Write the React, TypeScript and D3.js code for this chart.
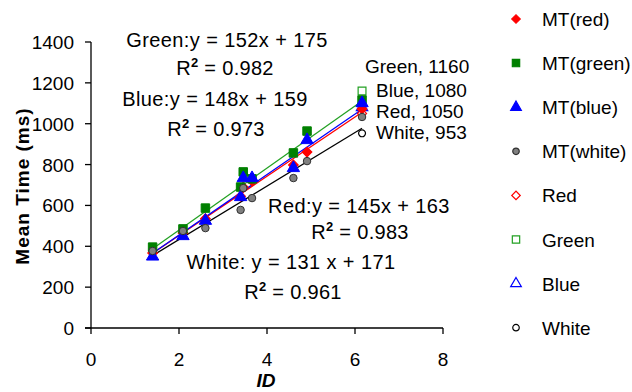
import React from "react";
import * as d3 from "d3";

const ids = [1.4, 2.09, 2.6, 3.4, 3.46, 3.66, 4.6, 4.91, 6.16];
const mtRed = [367, 465, 535, 645, 690, 720, 798, 861, 1072];
const mtGreen = [396, 485, 587, 690, 764, 730, 857, 964, 1116];
const mtBlue = [350, 450, 525, 641, 734, 734, 783, 920, 1101];
const mtWhite = [377, 475, 489, 578, 685, 636, 734, 817, 1033];

const fitSlope = [145, 152, 148, 131];
const fitIntercept = [163, 175, 159, 171];
const endLabels = ["Red, 1050", "Green, 1160", "Blue, 1080", "White, 953"];
const endValues = [1050, 1160, 1080, 953];
const r2 = ["0.983", "0.982", "0.973", "0.961"];

const xTicks = [0, 2, 4, 6, 8];
const yTicks = [0, 200, 400, 600, 800, 1000, 1200, 1400];
const legendLabels = ["MT(red)", "MT(green)", "MT(blue)", "MT(white)", "Red", "Green", "Blue", "White"];

const W = 632, H = 392;
const FONT = "'Liberation Sans', Arial, sans-serif";

const x = d3.scaleLinear().domain([0, 8]).range([91, 443]);
const y = d3.scaleLinear().domain([0, 1400]).range([328, 42]);

const series = [
  { vals: mtRed, sym: d3.symbolSquare, rot: 45, fill: "#ff0000", stroke: "#ff0000", line: "#ff0000", size: 48 },
  { vals: mtGreen, sym: d3.symbolSquare, rot: 0, fill: "#008000", stroke: "#008000", line: "#22a022", size: 72 },
  { vals: mtBlue, sym: d3.symbolTriangle, rot: 0, fill: "#0000ff", stroke: "#0000ff", line: "#0000ff", size: 66 },
  { vals: mtWhite, sym: d3.symbolCircle, rot: 0, fill: "#808080", stroke: "#303030", line: "#000000", size: 44 },
];

const sym = (t: any, s: number) => d3.symbol().type(t).size(s)() as string;

const R2 = ({ cx, by, v }: { cx: number; by: number; v: string }) => (
  <text x={cx} y={by} textAnchor="middle" fontSize={20} letterSpacing={0.3}>
    R<tspan dy={-8} fontSize={13} fontWeight="bold">2</tspan><tspan dy={8}> = {v}</tspan>
  </text>
);

export default function App() {
  const xMin = d3.min(ids) as number;
  const xMax = d3.max(ids) as number;
  const legendY = (i: number) => 19 + i * 44.1;
  return (
    <svg width={W} height={H} style={{ position: "absolute", left: 0, top: 0, background: "#fff" }} fontFamily={FONT}>
      {/* axes */}
      <line x1={x(0)} x2={x(0)} y1={y(1400)} y2={y(0)} stroke="#000" strokeWidth={1.3} />
      <line x1={x(0) - 6} x2={x(8)} y1={y(0)} y2={y(0)} stroke="#000" strokeWidth={1.3} />
      {yTicks.map((t) => (
        <g key={"y" + t}>
          <line x1={x(0) - 6} x2={x(0)} y1={y(t)} y2={y(t)} stroke="#000" strokeWidth={1.3} />
          <text x={74} y={y(t) + 7} textAnchor="end" fontSize={19} fill="#000">{t}</text>
        </g>
      ))}
      {xTicks.map((t) => (
        <g key={"x" + t}>
          <line x1={x(t)} x2={x(t)} y1={y(0)} y2={y(0) + 6} stroke="#000" strokeWidth={1.3} />
          <text x={x(t)} y={366} textAnchor="middle" fontSize={19} fill="#000">{t}</text>
        </g>
      ))}
      <text x={266} y={387} textAnchor="middle" fontSize={19} fontWeight="bold" fontStyle="italic">ID</text>
      <text transform={`translate(29,186) rotate(-90)`} textAnchor="middle" fontSize={19} fontWeight="bold" letterSpacing={1}>Mean Time (ms)</text>

      {/* trend lines */}
      {series.map((s, i) => (
        <line key={"l" + i} x1={x(xMin)} x2={x(xMax)}
          y1={y(fitSlope[i] * xMin + fitIntercept[i])} y2={y(fitSlope[i] * xMax + fitIntercept[i])}
          stroke={s.line} strokeWidth={1.3} />
      ))}
      {/* open end markers */}
      {series.map((s, i) => (
        <path key={"o" + i} d={sym(s.sym, s.size * 0.85)} transform={`translate(${x(xMax)},${y(endValues[i])}) rotate(${s.rot})`}
          fill="#fff" stroke={s.line} strokeWidth={1.2} />
      ))}
      {/* filled data markers */}
      {series.map((s, i) => (
        <g key={"s" + i}>
          {s.vals.map((v, j) => (
            <path key={j} d={sym(s.sym, s.size)} transform={`translate(${x(ids[j])},${y(v)}) rotate(${s.rot})`}
              fill={s.fill} stroke={s.stroke} strokeWidth={1} />
          ))}
        </g>
      ))}

      {/* annotations */}
      <g fontSize={20} fill="#000" textAnchor="middle" letterSpacing={0.4}>
        <text x={227} y={47}>Green:y = 152x + 175</text>
        <text x={215} y={106}>Blue:y = 148x + 159</text>
        <text x={359} y={213}>Red:y = 145x + 163</text>
        <text x={291} y={269}>White:  y = 131 x + 171</text>
      </g>
      <R2 cx={225} by={75} v={r2[1]} />
      <R2 cx={216} by={136} v={r2[2]} />
      <R2 cx={360} by={239} v={r2[0]} />
      <R2 cx={293} by={299} v={r2[3]} />
      <g fontSize={19} fill="#000">
        <text x={365} y={73}>{endLabels[1]}</text>
        <text x={376} y={97}>{endLabels[2]}</text>
        <text x={376} y={118}>{endLabels[0]}</text>
        <text x={376} y={139}>{endLabels[3]}</text>
      </g>

      {/* legend */}
      {legendLabels.map((lab, i) => {
        const s = series[i % 4];
        const open = i >= 4;
        return (
          <g key={"lg" + i}>
            <path d={sym(s.sym, s.size * 0.75)} transform={`translate(516,${legendY(i)}) rotate(${s.rot})`}
              fill={open ? "#fff" : s.fill} stroke={open ? s.line : s.stroke} strokeWidth={1.2} />
            <text x={542} y={legendY(i) + 7} fontSize={19} fill="#000">{lab}</text>
          </g>
        );
      })}
    </svg>
  );
}
